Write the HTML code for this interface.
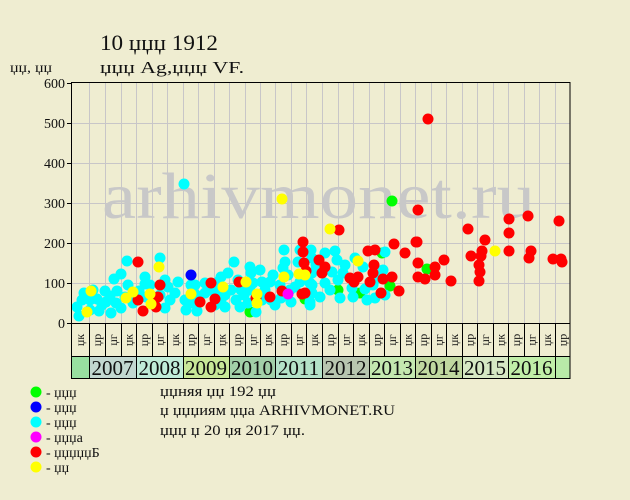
<!DOCTYPE html>
<html><head><meta charset="utf-8">
<style>
html,body{margin:0;padding:0;background:#efedd1;}
svg{display:block;font-family:"Liberation Serif","DejaVu Serif",serif;}
</style></head>
<body>
<svg width="630" height="500" viewBox="0 0 630 500" xmlns="http://www.w3.org/2000/svg">
<rect x="0" y="0" width="630" height="500" fill="#efedd1"/>
<!-- titles -->
<text x="100" y="50" font-size="22" fill="#111" textLength="118" lengthAdjust="spacingAndGlyphs">10 џџџ 1912</text>
<text x="100" y="73" font-size="17" fill="#111" textLength="144" lengthAdjust="spacingAndGlyphs">џџџ Ag,џџџ VF.</text>
<text x="10" y="72" font-size="14" fill="#111" textLength="42" lengthAdjust="spacingAndGlyphs">џџ, џџ</text>

<!-- grid -->
<g stroke="#c8c6c8" stroke-width="1" shape-rendering="crispEdges">
<path d="M71 123.5H570M71 163.5H570M71 203.5H570M71 243.5H570M71 283.5H570"/>
<path d="M89.5 82V323M105.5 82V323M121.5 82V323M136.5 82V323M152.5 82V323M167.5 82V323M183.5 82V323M198.5 82V323M214.5 82V323M229.5 82V323M245.5 82V323M260.5 82V323M275.5 82V323M291.5 82V323M306.5 82V323M322.5 82V323M338.5 82V323M353.5 82V323M369.5 82V323M384.5 82V323M400.5 82V323M415.5 82V323M431.5 82V323M446.5 82V323M462.5 82V323M477.5 82V323M493.5 82V323M508.5 82V323M524.5 82V323M539.5 82V323M555.5 82V323"/>
</g>

<!-- watermark -->
<text x="102" y="218" font-family="Liberation Serif, DejaVu Serif, serif" font-size="66" fill="#c8c8c8" textLength="433" lengthAdjust="spacingAndGlyphs">arhivmonet.ru</text>

<!-- y labels -->
<g font-size="14" fill="#111" text-anchor="end">
<text x="65" y="88">600</text>
<text x="65" y="128">500</text>
<text x="65" y="168">400</text>
<text x="65" y="208">300</text>
<text x="65" y="248">200</text>
<text x="65" y="288">100</text>
<text x="65" y="328">0</text>
</g>
<g stroke="#000" stroke-width="1" shape-rendering="crispEdges">
<path d="M67 83.5H71M67 123.5H71M67 163.5H71M67 203.5H71M67 243.5H71M67 283.5H71M67 323.5H71"/>
</g>

<!-- dots: green -->
<g fill="#00ff00">
<circle cx="250" cy="312" r="5.5"/><circle cx="305" cy="299" r="5.5"/><circle cx="338" cy="290" r="5.5"/>
<circle cx="360" cy="293" r="5.5"/><circle cx="382" cy="253" r="5.5"/><circle cx="390" cy="286" r="5.5"/>
<circle cx="427" cy="269" r="5.5"/><circle cx="392" cy="201" r="5.5"/>
</g>
<!-- cyan -->
<g fill="#00ffff">
<circle cx="77" cy="307" r="5.5"/><circle cx="79" cy="316" r="5.5"/><circle cx="84" cy="293" r="5.5"/>
<circle cx="90" cy="300" r="5.5"/><circle cx="97" cy="299" r="5.5"/><circle cx="99" cy="311" r="5.5"/>
<circle cx="105" cy="291" r="5.5"/><circle cx="106" cy="302" r="5.5"/><circle cx="111" cy="313" r="5.5"/>
<circle cx="114" cy="279" r="5.5"/><circle cx="116" cy="303" r="5.5"/><circle cx="117" cy="291" r="5.5"/>
<circle cx="121" cy="274" r="5.5"/><circle cx="127" cy="261" r="5.5"/><circle cx="133" cy="303" r="5.5"/>
<circle cx="133" cy="293" r="5.5"/><circle cx="125" cy="297" r="5.5"/><circle cx="145" cy="277" r="5.5"/>
<circle cx="145" cy="284" r="5.5"/><circle cx="146" cy="297" r="5.5"/><circle cx="160" cy="258" r="5.5"/>
<circle cx="165" cy="280" r="5.5"/><circle cx="168" cy="287" r="5.5"/><circle cx="175" cy="293" r="5.5"/>
<circle cx="170" cy="300" r="5.5"/><circle cx="165" cy="308" r="5.5"/><circle cx="178" cy="282" r="5.5"/>
<circle cx="185" cy="300" r="5.5"/><circle cx="186" cy="310" r="5.5"/><circle cx="184" cy="184" r="5.5"/>
<circle cx="155" cy="300" r="5.5"/><circle cx="150" cy="285" r="5.5"/>
<circle cx="82" cy="300" r="5.5"/><circle cx="93" cy="290" r="5.5"/><circle cx="102" cy="305" r="5.5"/>
<circle cx="110" cy="296" r="5.5"/><circle cx="121" cy="308" r="5.5"/><circle cx="128" cy="285" r="5.5"/>
<circle cx="139" cy="291" r="5.5"/><circle cx="90" cy="310" r="5.5"/><circle cx="160" cy="295" r="5.5"/>
<circle cx="191" cy="285" r="5.5"/><circle cx="191" cy="303" r="5.5"/><circle cx="195" cy="285" r="5.5"/>
<circle cx="198" cy="303" r="5.5"/><circle cx="205" cy="283" r="5.5"/><circle cx="205" cy="293" r="5.5"/>
<circle cx="196" cy="295" r="5.5"/><circle cx="210" cy="290" r="5.5"/><circle cx="218" cy="282" r="5.5"/>
<circle cx="221" cy="277" r="5.5"/><circle cx="228" cy="273" r="5.5"/><circle cx="221" cy="300" r="5.5"/>
<circle cx="225" cy="295" r="5.5"/><circle cx="225" cy="307" r="5.5"/><circle cx="231" cy="290" r="5.5"/>
<circle cx="236" cy="300" r="5.5"/><circle cx="238" cy="280" r="5.5"/><circle cx="241" cy="290" r="5.5"/>
<circle cx="234" cy="262" r="5.5"/><circle cx="215" cy="292" r="5.5"/><circle cx="197" cy="311" r="5.5"/>
<circle cx="250" cy="267" r="5.5"/><circle cx="251" cy="273" r="5.5"/><circle cx="260" cy="270" r="5.5"/>
<circle cx="253" cy="283" r="5.5"/><circle cx="250" cy="290" r="5.5"/><circle cx="248" cy="303" r="5.5"/>
<circle cx="256" cy="312" r="5.5"/><circle cx="265" cy="290" r="5.5"/><circle cx="270" cy="282" r="5.5"/>
<circle cx="273" cy="275" r="5.5"/><circle cx="271" cy="300" r="5.5"/><circle cx="275" cy="305" r="5.5"/>
<circle cx="244" cy="295" r="5.5"/><circle cx="262" cy="300" r="5.5"/><circle cx="240" cy="307" r="5.5"/>
<circle cx="262" cy="282" r="5.5"/><circle cx="215" cy="305" r="5.5"/>
<circle cx="284" cy="250" r="5.5"/><circle cx="300" cy="250" r="5.5"/><circle cx="311" cy="250" r="5.5"/>
<circle cx="285" cy="262" r="5.5"/><circle cx="283" cy="268" r="5.5"/><circle cx="288" cy="275" r="5.5"/>
<circle cx="281" cy="298" r="5.5"/><circle cx="291" cy="302" r="5.5"/><circle cx="295" cy="287" r="5.5"/>
<circle cx="310" cy="283" r="5.5"/><circle cx="310" cy="302" r="5.5"/><circle cx="312" cy="258" r="5.5"/>
<circle cx="325" cy="253" r="5.5"/><circle cx="312" cy="273" r="5.5"/><circle cx="312" cy="285" r="5.5"/>
<circle cx="312" cy="293" r="5.5"/><circle cx="310" cy="305" r="5.5"/><circle cx="300" cy="282" r="5.5"/>
<circle cx="290" cy="290" r="5.5"/><circle cx="280" cy="285" r="5.5"/><circle cx="316" cy="265" r="5.5"/>
<circle cx="298" cy="262" r="5.5"/><circle cx="320" cy="297" r="5.5"/>
<circle cx="335" cy="251" r="5.5"/><circle cx="337" cy="260" r="5.5"/><circle cx="355" cy="258" r="5.5"/>
<circle cx="363" cy="267" r="5.5"/><circle cx="343" cy="273" r="5.5"/><circle cx="332" cy="272" r="5.5"/>
<circle cx="325" cy="283" r="5.5"/><circle cx="338" cy="280" r="5.5"/><circle cx="352" cy="288" r="5.5"/>
<circle cx="353" cy="297" r="5.5"/><circle cx="365" cy="289" r="5.5"/><circle cx="367" cy="300" r="5.5"/>
<circle cx="345" cy="265" r="5.5"/><circle cx="330" cy="290" r="5.5"/><circle cx="340" cy="298" r="5.5"/>
<circle cx="375" cy="298" r="5.5"/><circle cx="383" cy="270" r="5.5"/><circle cx="385" cy="252" r="5.5"/>
<circle cx="385" cy="295" r="5.5"/><circle cx="373" cy="285" r="5.5"/><circle cx="378" cy="278" r="5.5"/>
</g>
<!-- red -->
<g fill="#ff0000">
<circle cx="138" cy="262" r="5.5"/><circle cx="138" cy="300" r="5.5"/><circle cx="143" cy="311" r="5.5"/>
<circle cx="160" cy="285" r="5.5"/><circle cx="158" cy="297" r="5.5"/><circle cx="156" cy="307" r="5.5"/>
<circle cx="211" cy="283" r="5.5"/><circle cx="200" cy="302" r="5.5"/><circle cx="215" cy="299" r="5.5"/>
<circle cx="211" cy="307" r="5.5"/><circle cx="239" cy="282" r="5.5"/><circle cx="256" cy="298" r="5.5"/>
<circle cx="270" cy="297" r="5.5"/><circle cx="282" cy="291" r="5.5"/><circle cx="302" cy="294" r="5.5"/>
<circle cx="305" cy="293" r="5.5"/><circle cx="303" cy="242" r="5.5"/><circle cx="303" cy="252" r="5.5"/>
<circle cx="304" cy="263" r="5.5"/><circle cx="306" cy="271" r="5.5"/><circle cx="339" cy="230" r="5.5"/>
<circle cx="319" cy="260" r="5.5"/><circle cx="325" cy="267" r="5.5"/><circle cx="322" cy="273" r="5.5"/>
<circle cx="394" cy="244" r="5.5"/><circle cx="417" cy="242" r="5.5"/><circle cx="405" cy="253" r="5.5"/>
<circle cx="418" cy="263" r="5.5"/><circle cx="368" cy="251" r="5.5"/><circle cx="375" cy="250" r="5.5"/>
<circle cx="374" cy="265" r="5.5"/><circle cx="373" cy="273" r="5.5"/><circle cx="350" cy="278" r="5.5"/>
<circle cx="358" cy="277" r="5.5"/><circle cx="354" cy="282" r="5.5"/><circle cx="370" cy="282" r="5.5"/>
<circle cx="383" cy="279" r="5.5"/><circle cx="392" cy="277" r="5.5"/><circle cx="418" cy="277" r="5.5"/>
<circle cx="425" cy="279" r="5.5"/><circle cx="399" cy="291" r="5.5"/><circle cx="381" cy="293" r="5.5"/>
<circle cx="428" cy="119" r="5.5"/><circle cx="418" cy="210" r="5.5"/><circle cx="509" cy="219" r="5.5"/>
<circle cx="528" cy="216" r="5.5"/><circle cx="559" cy="221" r="5.5"/><circle cx="468" cy="229" r="5.5"/>
<circle cx="509" cy="233" r="5.5"/><circle cx="485" cy="240" r="5.5"/><circle cx="416" cy="242" r="5.5"/>
<circle cx="482" cy="251" r="5.5"/><circle cx="509" cy="251" r="5.5"/><circle cx="531" cy="251" r="5.5"/>
<circle cx="529" cy="258" r="5.5"/><circle cx="471" cy="256" r="5.5"/><circle cx="481" cy="256" r="5.5"/>
<circle cx="444" cy="260" r="5.5"/><circle cx="435" cy="267" r="5.5"/><circle cx="435" cy="275" r="5.5"/>
<circle cx="451" cy="281" r="5.5"/><circle cx="479" cy="265" r="5.5"/><circle cx="480" cy="272" r="5.5"/>
<circle cx="479" cy="281" r="5.5"/><circle cx="553" cy="259" r="5.5"/><circle cx="561" cy="259" r="5.5"/>
<circle cx="562" cy="262" r="5.5"/>
</g>
<!-- yellow -->
<g fill="#ffff00">
<circle cx="87" cy="312" r="5.5"/><circle cx="91" cy="291" r="5.5"/><circle cx="126" cy="298" r="5.5"/>
<circle cx="133" cy="292" r="5.5"/><circle cx="150" cy="294" r="5.5"/><circle cx="151" cy="304" r="5.5"/>
<circle cx="159" cy="267" r="5.5"/><circle cx="191" cy="294" r="5.5"/><circle cx="223" cy="287" r="5.5"/>
<circle cx="246" cy="282" r="5.5"/><circle cx="257" cy="294" r="5.5"/><circle cx="257" cy="303" r="5.5"/>
<circle cx="284" cy="277" r="5.5"/><circle cx="299" cy="274" r="5.5"/><circle cx="305" cy="275" r="5.5"/>
<circle cx="282" cy="199" r="5.5"/><circle cx="330" cy="229" r="5.5"/><circle cx="358" cy="261" r="5.5"/>
<circle cx="495" cy="251" r="5.5"/>
</g>
<circle cx="288" cy="294" r="5.5" fill="#ff00ff"/>
<circle cx="191" cy="275" r="5.5" fill="#0000ff"/>

<!-- year row fills -->
<g shape-rendering="crispEdges">
<rect x="71" y="356" width="18" height="23" fill="#98e0a0"/>
<rect x="89" y="356" width="47" height="23" fill="#c2d8d0"/>
<rect x="136" y="356" width="47" height="23" fill="#c0ecd8"/>
<rect x="183" y="356" width="46" height="23" fill="#c8e898"/>
<rect x="229" y="356" width="46" height="23" fill="#a2d0a8"/>
<rect x="275" y="356" width="47" height="23" fill="#b4e2c8"/>
<rect x="322" y="356" width="47" height="23" fill="#b8c6b0"/>
<rect x="369" y="356" width="46" height="23" fill="#c4e8b0"/>
<rect x="415" y="356" width="47" height="23" fill="#c0d8a0"/>
<rect x="462" y="356" width="46" height="23" fill="#d6e8c4"/>
<rect x="508" y="356" width="47" height="23" fill="#c0eea8"/>
<rect x="555" y="356" width="15" height="23" fill="#b8eaa8"/>
</g>

<!-- frame and separators -->
<g stroke="#000" stroke-width="1.2" fill="none" shape-rendering="crispEdges">
<rect x="71.5" y="82.5" width="498.5" height="296"/>
<path d="M71 323.5H570M71 356.5H570"/>
<path d="M89.5 323V379M105.5 323V356M121.5 323V356M136.5 323V379M152.5 323V356M167.5 323V356M183.5 323V379M198.5 323V356M214.5 323V356M229.5 323V379M245.5 323V356M260.5 323V356M275.5 323V379M291.5 323V356M306.5 323V356M322.5 323V379M338.5 323V356M353.5 323V356M369.5 323V379M384.5 323V356M400.5 323V356M415.5 323V379M431.5 323V356M446.5 323V356M462.5 323V379M477.5 323V356M493.5 323V356M508.5 323V379M524.5 323V356M539.5 323V356M555.5 323V379"/>
</g>

<!-- column labels (rotated) -->
<g font-size="12" fill="#111" text-anchor="middle">
<text transform="translate(84,340) rotate(-90)">џк</text>
<text transform="translate(101,340) rotate(-90)">џр</text>
<text transform="translate(117,340) rotate(-90)">џг</text>
<text transform="translate(132.5,340) rotate(-90)">џк</text>
<text transform="translate(148,340) rotate(-90)">џр</text>
<text transform="translate(163.5,340) rotate(-90)">џг</text>
<text transform="translate(179,340) rotate(-90)">џк</text>
<text transform="translate(194.5,340) rotate(-90)">џр</text>
<text transform="translate(210,340) rotate(-90)">џг</text>
<text transform="translate(225.5,340) rotate(-90)">џк</text>
<text transform="translate(241,340) rotate(-90)">џр</text>
<text transform="translate(256.5,340) rotate(-90)">џг</text>
<text transform="translate(271.5,340) rotate(-90)">џк</text>
<text transform="translate(287,340) rotate(-90)">џр</text>
<text transform="translate(302.5,340) rotate(-90)">џг</text>
<text transform="translate(318,340) rotate(-90)">џк</text>
<text transform="translate(334,340) rotate(-90)">џр</text>
<text transform="translate(349.5,340) rotate(-90)">џг</text>
<text transform="translate(365,340) rotate(-90)">џк</text>
<text transform="translate(380.5,340) rotate(-90)">џр</text>
<text transform="translate(396,340) rotate(-90)">џг</text>
<text transform="translate(411.5,340) rotate(-90)">џк</text>
<text transform="translate(427,340) rotate(-90)">џр</text>
<text transform="translate(442.5,340) rotate(-90)">џг</text>
<text transform="translate(458,340) rotate(-90)">џк</text>
<text transform="translate(473.5,340) rotate(-90)">џр</text>
<text transform="translate(489,340) rotate(-90)">џг</text>
<text transform="translate(504.5,340) rotate(-90)">џк</text>
<text transform="translate(520,340) rotate(-90)">џр</text>
<text transform="translate(535.5,340) rotate(-90)">џг</text>
<text transform="translate(551,340) rotate(-90)">џк</text>
<text transform="translate(566.5,340) rotate(-90)">џр</text>
</g>

<!-- year labels -->
<g font-size="21" fill="#111" text-anchor="middle">
<text x="112.5" y="375">2007</text>
<text x="159.5" y="375">2008</text>
<text x="206" y="375">2009</text>
<text x="252" y="375">2010</text>
<text x="298.5" y="375">2011</text>
<text x="345.5" y="375">2012</text>
<text x="392" y="375">2013</text>
<text x="438.5" y="375">2014</text>
<text x="485" y="375">2015</text>
<text x="531.5" y="375">2016</text>
</g>

<!-- legend -->
<circle cx="36" cy="392" r="5.5" fill="#00ff00"/>
<circle cx="36" cy="407" r="5.5" fill="#0000ff"/>
<circle cx="36" cy="422" r="5.5" fill="#00ffff"/>
<circle cx="36" cy="437" r="5.5" fill="#ff00ff"/>
<circle cx="36" cy="452" r="5.5" fill="#ff0000"/>
<circle cx="36" cy="467" r="5.5" fill="#ffff00"/>
<g font-size="14" fill="#111">
<text x="46" y="397">- џџџ</text>
<text x="46" y="412">- џџџ</text>
<text x="46" y="427">- џџџ</text>
<text x="46" y="442">- џџџа</text>
<text x="46" y="457">- џџџџџБ</text>
<text x="46" y="472">- џџ</text>
</g>

<!-- notes -->
<g font-size="15" fill="#111">
<text x="160" y="396" textLength="116" lengthAdjust="spacingAndGlyphs">џџняя џџ 192 џџ</text>
<text x="160" y="415" textLength="235" lengthAdjust="spacingAndGlyphs">џ џџџиям џџа ARHIVMONET.RU</text>
<text x="160" y="435" textLength="145" lengthAdjust="spacingAndGlyphs">џџџ џ 20 џя 2017 џџ.</text>
</g>
</svg>
</body></html>
